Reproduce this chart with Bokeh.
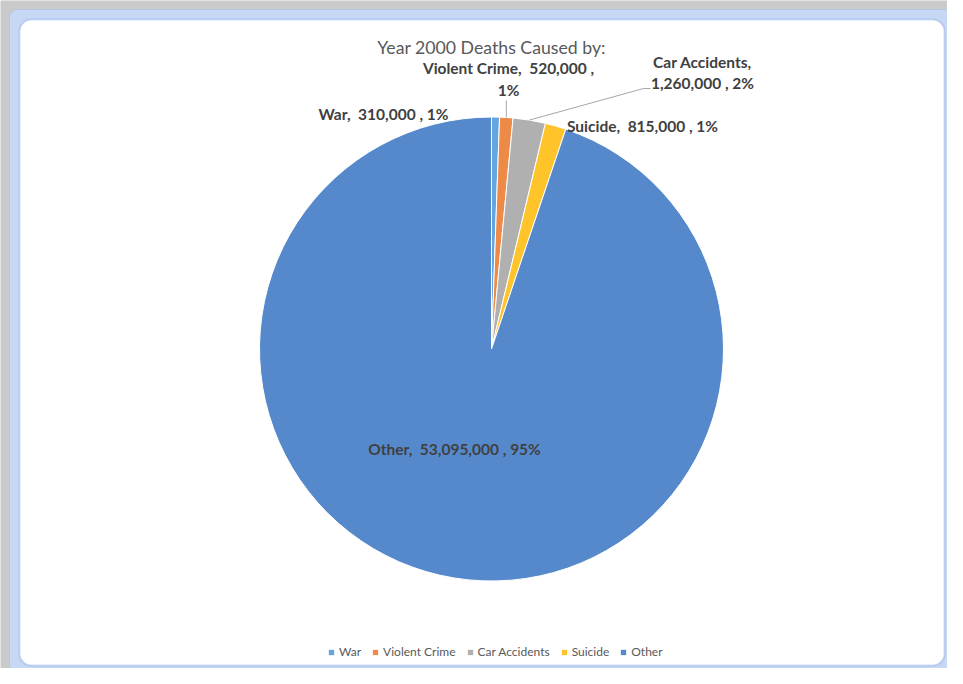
import math
from bokeh.plotting import figure
from bokeh.models import (Range1d, ColumnDataSource, Label, Legend, LegendItem,
                          BoxAnnotation)
from bokeh.core.properties import value
from bokeh.embed import file_html
from bokeh.resources import INLINE

# ---- data ----
categories = ["War", "Violent Crime", "Car Accidents", "Suicide", "Other"]
deaths = [310000, 520000, 1260000, 815000, 53095000]
colors = ["#62A5DF", "#EE8A47", "#B0B0B0", "#FFC42A", "#5689CC"]
title_text = "Year 2000 Deaths Caused by:"

# ---- layout (picture pixel coordinates, converted to data) ----
W, H = 947, 668
def px(x):
    return x
def py(y):
    return H - y

CX, CY, R = px(491), py(348.5), 232
# label anchors (picture px) and line breaks
label_pos = [(383, 113), (508, 78.5), (702, 72), (642, 125), (454, 448)]
label_break = [False, True, True, False, False]
FONT = "Lato"
SP = "\u00a0 "

p = figure(width=W, height=H, x_range=Range1d(0, W), y_range=Range1d(0, H),
           output_backend="svg", toolbar_location=None, min_border=0,
           background_fill_color="#CACACA", border_fill_color="#CACACA")
p.axis.visible = False
p.grid.visible = False
p.outline_line_color = None

# chart area frame
p.add_layout(BoxAnnotation(left=px(9), right=px(W + 30), top=py(9), bottom=py(H + 30),
                           fill_color="#C7D8F4", fill_alpha=1,
                           line_color="#8EABE6", line_width=1, border_radius=8,
                           level="underlay"))
p.add_layout(BoxAnnotation(left=px(19), right=px(944), top=py(19), bottom=py(665),
                           fill_color="white", fill_alpha=1,
                           line_color="#6B8FE0", line_width=2, border_radius=12,
                           level="underlay"))

total = sum(deaths)
cum = 0.0
items = []
mids = []
for cat, v, c in zip(categories, deaths, colors):
    f0 = cum / total
    cum += v
    f1 = cum / total
    src = ColumnDataSource(dict(x=[CX], y=[CY],
                                s=[math.pi / 2 - 2 * math.pi * f0],
                                e=[math.pi / 2 - 2 * math.pi * f1]))
    r = p.wedge(x="x", y="y", radius=R, start_angle="s", end_angle="e",
                direction="clock", fill_color=c, line_color="white",
                line_width=1, source=src)
    items.append(LegendItem(label=cat, renderers=[r]))
    mids.append(math.pi / 2 - math.pi * (f0 + f1))

# data labels
lx, ly, lt = [], [], []
for cat, v, (x, y), br in zip(categories, deaths, label_pos, label_break):
    pct = round(100 * v / total)
    if cat == "Car Accidents":
        t = f"{cat},\n{v:,} , {pct}%"
    elif br:
        t = f"{cat},{SP}{v:,} ,\n{pct}%"
    else:
        t = f"{cat},{SP}{v:,} , {pct}%"
    lx.append(px(x)); ly.append(py(y)); lt.append(t)
p.text(x=lx, y=ly, text=lt, text_font=value(FONT), text_font_style="bold",
       text_font_size="15.5px", text_color="#404040", text_align="center",
       text_baseline="middle", text_line_height=1.22)

# leader lines (Violent Crime, Car Accidents)
i = 1
sx, sy = CX + R * math.cos(mids[i]), CY + R * math.sin(mids[i])
p.line(x=[sx, sx], y=[sy, py(100)], line_color="#A6A6A6", line_width=1)
i = 2
sx, sy = CX + R * math.cos(mids[i]), CY + R * math.sin(mids[i])
p.line(x=[sx, px(643), px(650)], y=[sy, py(88), py(88)],
       line_color="#A6A6A6", line_width=1)

# title
p.add_layout(Label(x=px(491), y=py(47), text=title_text, text_align="center",
                   text_baseline="middle", text_font=FONT, text_font_size="17.7px",
                   text_color="#595959"))

legend = Legend(items=items, orientation="horizontal", location=(327, 9),
                label_text_font=FONT, label_text_font_size="12px",
                label_text_color="#595959", glyph_width=8, glyph_height=8,
                label_standoff=4, spacing=10, padding=0, margin=0,
                border_line_color=None, background_fill_alpha=0)
p.add_layout(legend, "center")

open("out.html", "w").write(file_html(p, INLINE))
